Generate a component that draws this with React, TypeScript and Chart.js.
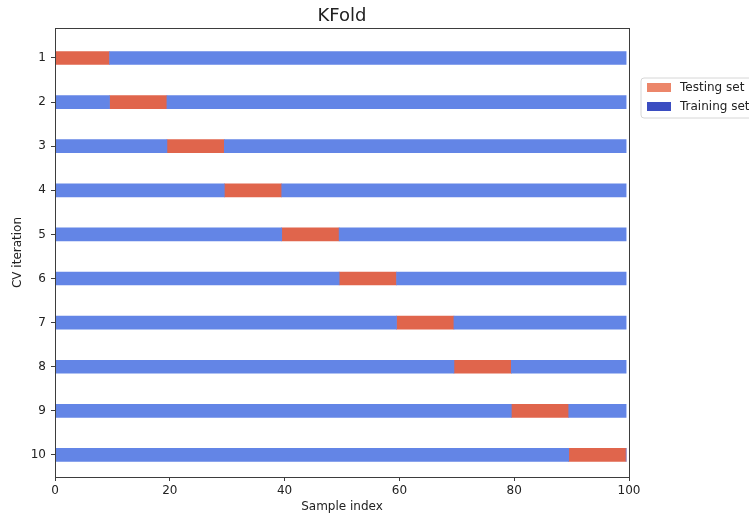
import React, { useEffect, useRef } from "react";
import { Chart, registerables } from "chart.js";

Chart.register(...registerables);

const chartTitle = "KFold";
const folds = [1, 2, 3, 4, 5, 6, 7, 8, 9, 10];
const testStart = [-0.5, 9.5, 19.5, 29.5, 39.5, 49.5, 59.5, 69.5, 79.5, 89.5];
const testEnd = [9.5, 19.5, 29.5, 39.5, 49.5, 59.5, 69.5, 79.5, 89.5, 99.5];
const sampleStart = -0.5;
const sampleEnd = 99.5;
const xTicks = [0, 20, 40, 60, 80, 100];
const legendLabels = ["Testing set", "Training set"];

const TEST_COLOR = "rgb(224,101,76)";
const TRAIN_COLOR = "rgb(99,133,230)";
const LEGEND_TEST = "rgb(236,134,106)";
const LEGEND_TRAIN = "rgb(59,77,193)";
const AXIS_COLOR = "#3d3d3d";
const FONT = "'DejaVu Sans', sans-serif";

const decorPlugin = {
  id: "decor",
  afterDraw(chart: any) {
    const { ctx, chartArea } = chart;
    ctx.save();
    ctx.strokeStyle = AXIS_COLOR;
    ctx.lineWidth = 1;
    ctx.strokeRect(
      Math.round(chartArea.left) + 0.5,
      Math.round(chartArea.top) + 0.5,
      Math.round(chartArea.right - chartArea.left),
      Math.round(chartArea.bottom - chartArea.top)
    );
    ctx.fillStyle = "#222";
    ctx.font = `18px ${FONT}`;
    ctx.textAlign = "center";
    ctx.textBaseline = "alphabetic";
    ctx.fillText(chartTitle, (chartArea.left + chartArea.right) / 2, 21);
    const lx = chartArea.right + 12;
    const ly = 78;
    const w = 130;
    const h = 40;
    const r = 3;
    ctx.fillStyle = "rgba(255,255,255,0.8)";
    ctx.strokeStyle = "#d6d6d6";
    ctx.beginPath();
    ctx.moveTo(lx + r, ly);
    ctx.lineTo(lx + w - r, ly);
    ctx.arcTo(lx + w, ly, lx + w, ly + r, r);
    ctx.lineTo(lx + w, ly + h - r);
    ctx.arcTo(lx + w, ly + h, lx + w - r, ly + h, r);
    ctx.lineTo(lx + r, ly + h);
    ctx.arcTo(lx, ly + h, lx, ly + h - r, r);
    ctx.lineTo(lx, ly + r);
    ctx.arcTo(lx, ly, lx + r, ly, r);
    ctx.closePath();
    ctx.fill();
    ctx.stroke();
    const colors = [LEGEND_TEST, LEGEND_TRAIN];
    ctx.font = `12px ${FONT}`;
    ctx.textAlign = "left";
    ctx.textBaseline = "middle";
    legendLabels.forEach((lab, i) => {
      const cy = ly + 10 + i * 19;
      ctx.fillStyle = colors[i];
      ctx.fillRect(lx + 6, cy - 5, 24, 9);
      ctx.fillStyle = "#222";
      ctx.fillText(lab, lx + 39, cy);
    });
    ctx.restore();
  },
};

export default function App() {
  const ref = useRef<HTMLCanvasElement | null>(null);

  useEffect(() => {
    if (!ref.current) return;
    const testData = folds.map((f, i) => ({ x: [testStart[i], testEnd[i]], y: f }));
    const trainBefore = folds.map((f, i) => ({ x: [sampleStart, testStart[i]], y: f }));
    const trainAfter = folds.map((f, i) => ({ x: [testEnd[i], sampleEnd], y: f }));

    const chart = new Chart(ref.current, {
      type: "bar",
      data: {
        datasets: [
          {
            label: legendLabels[1],
            data: trainBefore as any,
            backgroundColor: TRAIN_COLOR,
            barThickness: 13,
            grouped: false,
          } as any,
          {
            label: legendLabels[1],
            data: trainAfter as any,
            backgroundColor: TRAIN_COLOR,
            barThickness: 13,
            grouped: false,
          } as any,
          {
            label: legendLabels[0],
            data: testData as any,
            backgroundColor: TEST_COLOR,
            barThickness: 13,
            grouped: false,
          } as any,
        ],
      },
      options: {
        indexAxis: "y",
        animation: false,
        responsive: false,
        maintainAspectRatio: false,
        layout: { padding: { top: 28, right: 120, left: 0, bottom: 0 } },
        plugins: {
          legend: { display: false },
          title: { display: false },
          tooltip: { enabled: false },
        },
        scales: {
          x: {
            type: "linear",
            min: 0,
            max: 100,
            offset: false,
            afterFit: (s: any) => {
              s.height = 41;
            },
            afterBuildTicks: (s: any) => {
              s.ticks = xTicks.map((v) => ({ value: v }));
            },
            grid: {
              display: true,
              offset: false,
              drawOnChartArea: false,
              drawTicks: true,
              tickLength: 4,
              color: AXIS_COLOR,
            },
            border: { display: true, color: AXIS_COLOR, width: 1 },
            ticks: {
              color: "#222",
              font: { family: FONT, size: 12 },
              padding: 3,
              maxRotation: 0,
            },
            title: {
              display: true,
              text: "Sample index",
              color: "#222",
              font: { family: FONT, size: 12 },
              padding: { top: 0, bottom: 4 },
            },
          },
          y: {
            type: "linear",
            min: 0.32,
            max: 10.5,
            reverse: true,
            offset: false,
            afterFit: (s: any) => {
              s.width = 55;
            },
            afterBuildTicks: (s: any) => {
              s.ticks = folds.map((v) => ({ value: v }));
            },
            grid: {
              display: true,
              offset: false,
              drawOnChartArea: false,
              drawTicks: true,
              tickLength: 4,
              color: AXIS_COLOR,
            },
            border: { display: true, color: AXIS_COLOR, width: 1 },
            ticks: {
              color: "#222",
              font: { family: FONT, size: 12 },
              padding: 5,
              callback: (v: any) => String(v),
            },
            title: {
              display: true,
              text: "CV iteration",
              color: "#222",
              font: { family: FONT, size: 12 },
              padding: { top: 11, bottom: 0 },
            },
          },
        },
      } as any,
      plugins: [decorPlugin],
    });
    return () => chart.destroy();
  }, []);

  return (
    <div style={{ position: "fixed", left: 0, top: 0, width: 749, height: 518, background: "#fff" }}>
      <canvas ref={ref} width={749} height={518} style={{ display: "block", width: 749, height: 518 }} />
    </div>
  );
}
